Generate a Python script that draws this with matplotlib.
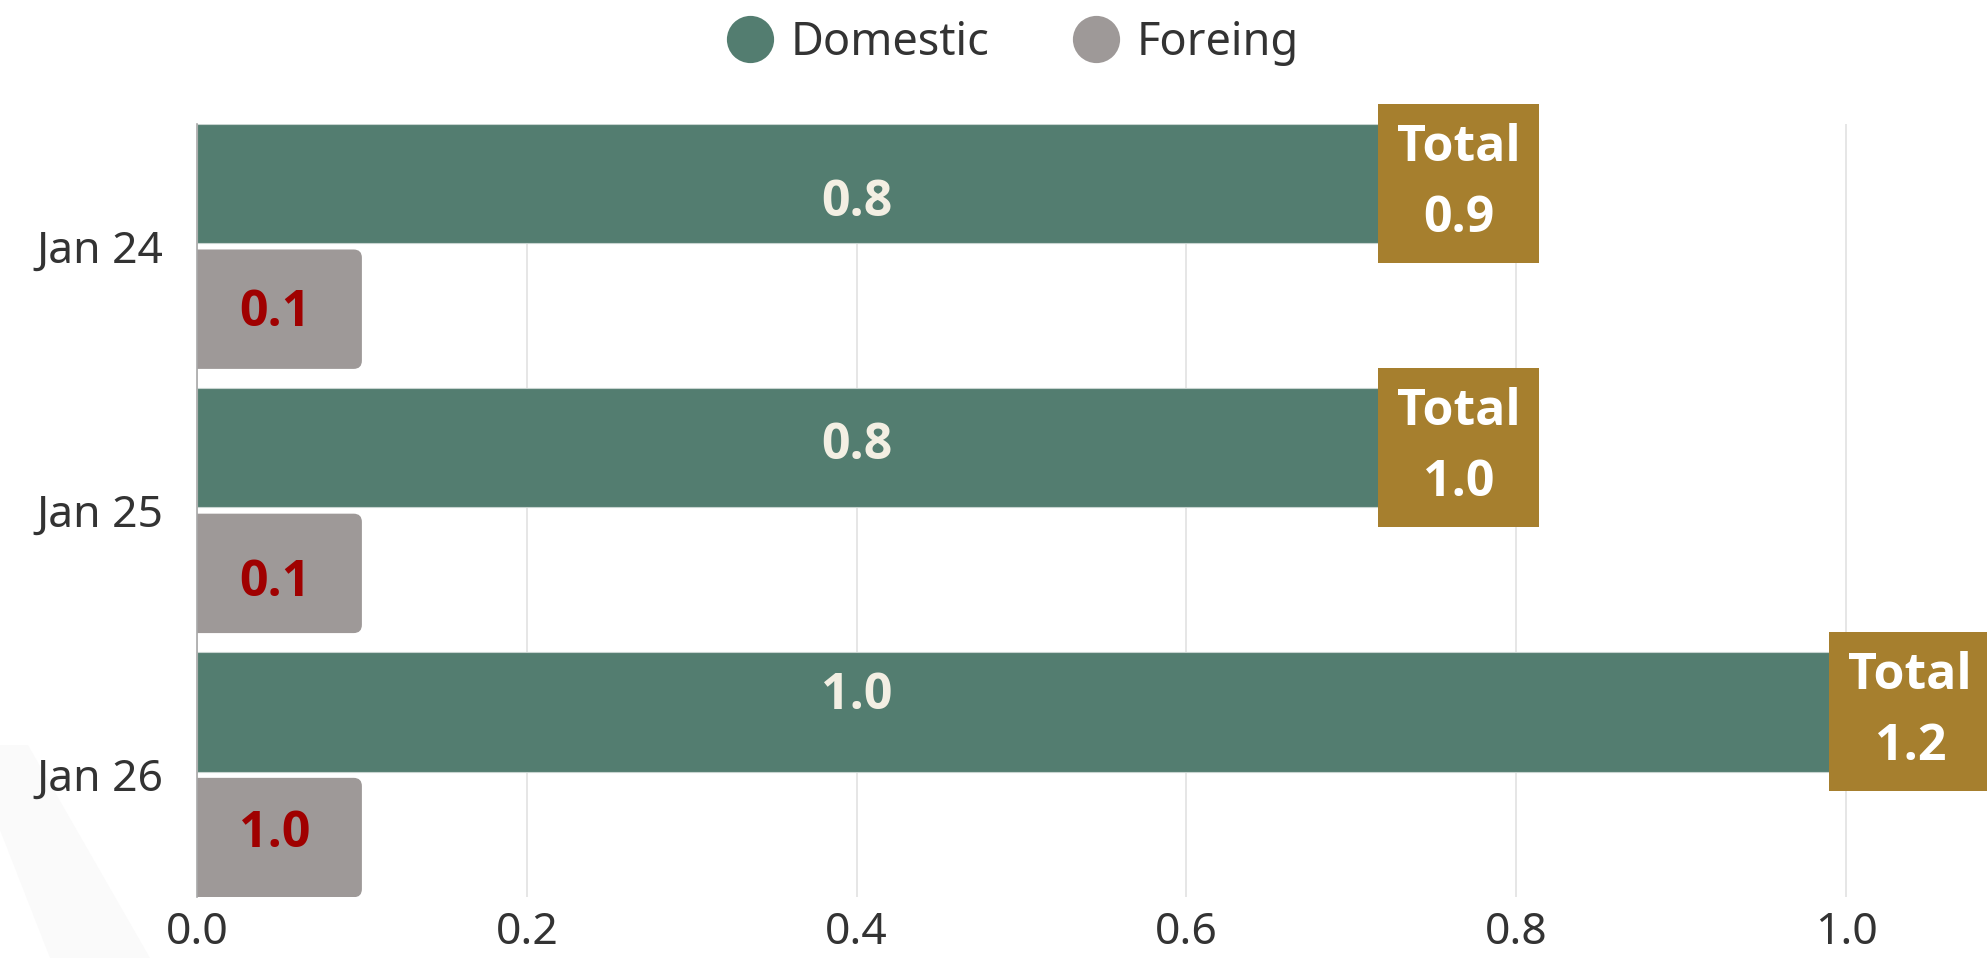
import matplotlib
matplotlib.use("Agg")
import matplotlib.pyplot as plt
from matplotlib.patches import FancyBboxPatch, Polygon
from matplotlib.lines import Line2D

plt.rcParams["font.family"] = ["Noto Sans", "DejaVu Sans"]
BOLD = ["Open Sans", "DejaVu Sans"]

# data
months = ["Jan 24", "Jan 25", "Jan 26"]
domestic = [0.765, 0.765, 1.039]
domestic_labels = ["0.8", "0.8", "1.0"]
foreign = [0.1, 0.1, 0.1]
foreign_labels = ["0.1", "0.1", "1.0"]
totals = [0.9, 1.0, 1.2]
x_ticks = [0.0, 0.2, 0.4, 0.6, 0.8, 1.0]

C_DOM = "#537d70"
C_FOR = "#9e9998"
C_TOT = "#a67f2e"
C_TXT = "#333333"

W, H = 1987, 958
fig = plt.figure(figsize=(W / 100, H / 100), dpi=100)

# faint watermark band bottom-left
band = Polygon([(0 / W, 1 - 745 / H), (28 / W, 1 - 745 / H), (150 / W, 0),
                (50 / W, 0), (0, 1 - 830 / H)],
               closed=True, transform=fig.transFigure, facecolor="#fafafa",
               edgecolor="none", zorder=-5)
fig.patches.append(band)

ax = fig.add_axes([197 / W, 1 - 897 / H, 1 - 197 / W, (897 - 124) / H])
ax.set_facecolor("none")
ax.set_zorder(1)

ypos = list(range(len(months)))
off = 0.238
bh = 0.452

dom_bars = ax.barh([y - off for y in ypos], domestic, height=bh, color=C_DOM,
                   edgecolor="#c8d4d0", linewidth=0.8, zorder=2)
for_bars = ax.barh([y + off for y in ypos], foreign, height=bh, color=C_FOR,
                   zorder=2)

# rounded right corners for foreign bars
for b in for_bars:
    x0, y0 = b.get_x(), b.get_y()
    w, h = b.get_width(), b.get_height()
    b.set_visible(False)
    p = FancyBboxPatch((x0 - 0.03, y0), w + 0.03, h,
                       boxstyle="round,pad=0,rounding_size=0.005",
                       mutation_aspect=6.25, facecolor=C_FOR, edgecolor="none",
                       zorder=2)
    ax.add_patch(p)

# label nudges as seen in the original
dom_dy = [0.074, -0.008, -0.061]
for_dy = [0.015, 0.035, -0.013]

for i, y in enumerate(ypos):
    ax.text(0.4, y - off + dom_dy[i], domestic_labels[i], ha="center",
            va="center", fontsize=36, fontweight="bold", family=BOLD,
            color="#f3efe3", zorder=4)
    ax.text(0.047, y + off + for_dy[i], foreign_labels[i], ha="center",
            va="center", fontsize=36, fontweight="bold", family=BOLD,
            color="#a00000", zorder=4)
    ax.text(domestic[i], y - off, f"Total\n{totals[i]:.1f}", ha="center",
            va="center", fontsize=36, fontweight="bold", family=BOLD,
            color="white", linespacing=1.55, zorder=5, clip_on=False,
            bbox=dict(boxstyle="square,pad=0.38", facecolor=C_TOT,
                      edgecolor="none"))

ax.set_xlim(0, (W - 197) / 1649)
ax.set_ylim(2 + 0.463, -0.463)
ax.set_xticks(x_ticks)
ax.set_xticklabels([f"{v:.1f}" for v in x_ticks])
ax.set_yticks(ypos)
ax.set_yticklabels(months)
ax.tick_params(axis="both", length=0, labelsize=32, colors=C_TXT)
ax.tick_params(axis="x", pad=10)
ax.tick_params(axis="y", pad=24)
ax.grid(axis="x", color="#e2e2e2", linewidth=1.2, zorder=0)
ax.set_axisbelow(True)
for s in ["top", "right", "bottom"]:
    ax.spines[s].set_visible(False)
ax.spines["left"].set_color("#a8a8a8")
ax.spines["left"].set_linewidth(1.2)
ax.spines["left"].set_zorder(3)

handles = [
    Line2D([], [], marker="o", linestyle="none", markersize=34,
           markerfacecolor=C_DOM, markeredgewidth=0, label="Domestic"),
    Line2D([], [], marker="o", linestyle="none", markersize=34,
           markerfacecolor=C_FOR, markeredgewidth=0, label="Foreing"),
]
fig.legend(handles=handles, loc="center", bbox_to_anchor=(1002 / W, 1 - 43 / H),
           ncol=2, frameon=False, fontsize=32.5, labelcolor=C_TXT,
           handletextpad=-0.1, columnspacing=1.36, borderaxespad=0)

fig.savefig("out.png", dpi=100)
